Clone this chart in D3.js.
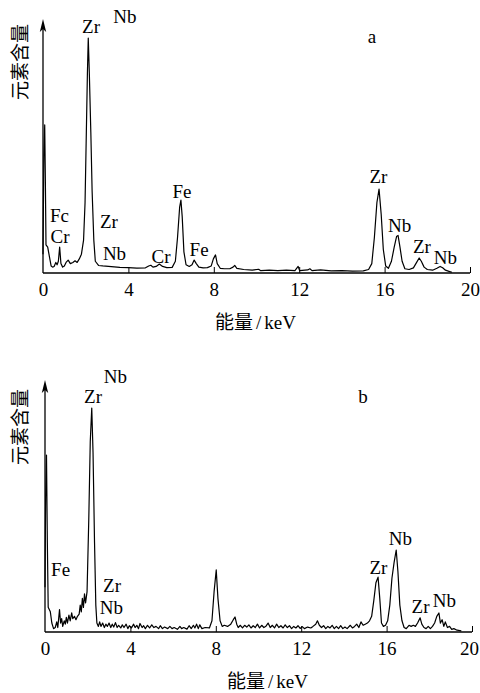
<!DOCTYPE html>
<html>
<head>
<meta charset="utf-8">
<script src="https://cdn.jsdelivr.net/npm/d3@7"></script>
<style>
  body { margin: 0; background: #fff; }
  text { font-family: "Liberation Serif", "Times New Roman", "Noto Sans CJK SC", serif; fill: #000; }
  .cjk { font-family: "Noto Sans CJK SC", sans-serif; }
</style>
</head>
<body>
<svg id="chart" width="480" height="693"></svg>
<script>
// energy (keV) ticks shared by both spectra
const keVTicks = [0, 4, 8, 12, 16, 20];

// spectrum a: [keV, relative counts]
const spectrumA = [
  [0.00, 8], [0.04, 50], [0.08, 63], [0.11, 40], [0.14, 12], [0.22, 11], [0.30, 7], [0.38, 3],
  [0.45, 2.5], [0.52, 2.8], [0.60, 4.5], [0.66, 3.5], [0.72, 5], [0.78, 11], [0.84, 4], [0.92, 2.5],
  [1.00, 3], [1.08, 4.5], [1.18, 5.5], [1.28, 4], [1.40, 4.5], [1.50, 5.2], [1.60, 4.5], [1.70, 6],
  [1.80, 8], [1.90, 14], [1.97, 30], [2.02, 55], [2.08, 85], [2.12, 100], [2.17, 85], [2.24, 60],
  [2.30, 35], [2.38, 14], [2.45, 5], [2.60, 3.2], [2.80, 3], [3.20, 2.7], [3.60, 2.4], [4.00, 2.3],
  [4.40, 2.1], [4.80, 2.2], [4.95, 3], [5.05, 3.3], [5.15, 2.5], [5.30, 2.8], [5.45, 3.8], [5.60, 2.8],
  [5.80, 2.3], [6.05, 2.4], [6.20, 5], [6.30, 15], [6.40, 28], [6.46, 31], [6.52, 24], [6.60, 9],
  [6.70, 3.5], [6.85, 2.8], [6.98, 3.5], [7.08, 5.5], [7.18, 4], [7.30, 2.5], [7.50, 2.2], [7.70, 2.3],
  [7.88, 3], [7.98, 6], [8.08, 7.7], [8.16, 4], [8.30, 2], [8.50, 1.8], [8.75, 1.8], [8.90, 2.5],
  [8.98, 3.2], [9.08, 2], [9.40, 1.5], [9.80, 1.2], [10.10, 1.6], [10.20, 1.0], [10.60, 1.2], [11.00, 1.0],
  [11.40, 1.2], [11.80, 1.0], [11.95, 2.8], [12.02, 1.0], [12.40, 1.3], [12.50, 1.8], [12.60, 1.0], [13.00, 1.3],
  [13.50, 0.9], [14.00, 1.0], [14.50, 0.8], [15.00, 0.9], [15.25, 1.5], [15.40, 4], [15.52, 15], [15.64, 30],
  [15.74, 35.7], [15.84, 25], [15.94, 10], [16.05, 3], [16.18, 2], [16.32, 5], [16.45, 11], [16.56, 15.5],
  [16.63, 16], [16.72, 11], [16.82, 5], [16.95, 1.8], [17.15, 1.5], [17.35, 2.2], [17.50, 4.5], [17.62, 6.4],
  [17.72, 5], [17.85, 2.5], [18.00, 1.5], [18.25, 1.2], [18.45, 2], [18.60, 2.8], [18.72, 2.2], [18.85, 1.2],
  [19.05, 0.6], [19.15, 0.3]
];

// spectrum b: [keV, relative counts]
const spectrumB = [
  [0.00, 20], [0.03, 60], [0.07, 79], [0.11, 40], [0.15, 11], [0.25, 9], [0.32, 4], [0.40, 1.5],
  [0.48, 2], [0.55, 4.5], [0.60, 2], [0.68, 10], [0.73, 4], [0.78, 6], [0.83, 2.5], [0.90, 5],
  [0.95, 3.5], [1.00, 6.5], [1.05, 4], [1.12, 7.5], [1.18, 5], [1.25, 8.5], [1.30, 6], [1.38, 7],
  [1.45, 5.5], [1.52, 7], [1.60, 8], [1.65, 12], [1.70, 9], [1.75, 15], [1.80, 11], [1.85, 17],
  [1.90, 13], [1.97, 18], [2.05, 50], [2.12, 85], [2.19, 100], [2.25, 80], [2.32, 40], [2.38, 12],
  [2.43, 4], [2.50, 2.5], [2.56, 4.5], [2.62, 2.5], [2.70, 4], [2.78, 2], [2.85, 3.5], [2.92, 2.5],
  [3.00, 4], [3.08, 2], [3.15, 3.5], [3.22, 2.2], [3.30, 4.2], [3.38, 2], [3.45, 3], [3.55, 1.8],
  [3.62, 3.2], [3.70, 2], [3.80, 3.5], [3.88, 1.5], [3.95, 2.8], [4.05, 1.8], [4.15, 3.5], [4.22, 2],
  [4.30, 3], [4.38, 1.5], [4.45, 3.8], [4.55, 2], [4.62, 2.8], [4.70, 1.5], [4.80, 3], [4.90, 1.8],
  [5.00, 3.2], [5.10, 2], [5.20, 2.5], [5.32, 1.5], [5.40, 2.8], [5.50, 1.5], [5.60, 2.2], [5.75, 1.5],
  [5.85, 2.5], [5.95, 1.5], [6.05, 2], [6.20, 1.2], [6.32, 2.5], [6.40, 1.5], [6.50, 2], [6.65, 1.3],
  [6.75, 2.8], [6.85, 1.5], [6.95, 3], [7.02, 1.8], [7.10, 3.5], [7.18, 1.5], [7.25, 3.2], [7.35, 1.5],
  [7.50, 2], [7.70, 1.8], [7.82, 5], [7.92, 18], [8.02, 27.7], [8.10, 15], [8.20, 5], [8.30, 2.5],
  [8.40, 3], [8.55, 2.5], [8.70, 3.5], [8.82, 5.5], [8.90, 6.7], [8.98, 3.5], [9.05, 2], [9.15, 3],
  [9.25, 1.8], [9.35, 3], [9.45, 2.2], [9.55, 3.2], [9.65, 1.8], [9.75, 2.8], [9.85, 2], [9.95, 3.5],
  [10.05, 1.8], [10.15, 3], [10.25, 2], [10.35, 2.6], [10.45, 4], [10.55, 2], [10.65, 3], [10.75, 1.8],
  [10.85, 3.5], [10.95, 2], [11.05, 2.8], [11.15, 1.8], [11.25, 3.2], [11.35, 2], [11.45, 2.8], [11.55, 1.5],
  [11.65, 2.5], [11.75, 1.8], [11.85, 2.8], [11.95, 1.6], [12.05, 2.4], [12.15, 1.5], [12.30, 2.2], [12.45, 1.8],
  [12.55, 2.5], [12.68, 3.5], [12.76, 5], [12.85, 3], [12.95, 2], [13.05, 2.8], [13.15, 1.5], [13.25, 2.5],
  [13.35, 1.8], [13.45, 3], [13.55, 1.5], [13.65, 2.5], [13.75, 1.5], [13.85, 2.8], [13.95, 1.5], [14.05, 2.2],
  [14.15, 1.5], [14.30, 3], [14.40, 1.8], [14.50, 2.5], [14.60, 3.5], [14.70, 2], [14.80, 4.5], [14.90, 3],
  [15.00, 3.5], [15.10, 4], [15.20, 5], [15.30, 7], [15.40, 14], [15.50, 22], [15.60, 24.5], [15.68, 15],
  [15.76, 4], [15.85, 2.5], [15.95, 3], [16.05, 5], [16.15, 12], [16.25, 24], [16.35, 31], [16.45, 36.6],
  [16.53, 27], [16.62, 12], [16.72, 5], [16.82, 2], [16.92, 1.5], [17.05, 3], [17.15, 2.5], [17.25, 3],
  [17.35, 2.5], [17.45, 4], [17.57, 6.3], [17.65, 3.5], [17.75, 2], [17.85, 1.5], [17.95, 2.5], [18.05, 1.5],
  [18.15, 2.5], [18.25, 4], [18.35, 7], [18.45, 8.5], [18.52, 4], [18.60, 5.5], [18.68, 2.5], [18.75, 4.5],
  [18.85, 2], [18.95, 2.5], [19.05, 1.2], [19.15, 1.5], [19.30, 0.8], [19.50, 0.5]
];

// peak labels: [text, keV, counts at text baseline]
const labelsA = [
  ["Zr", 2.25, 102], ["Nb", 3.84, 106.4], ["Fc", 0.77, 21.7], ["Cr", 0.80, 12.8],
  ["Zr", 3.09, 19.1], ["Nb", 3.35, 5.5], ["Cr", 5.53, 4.3], ["Fe", 6.51, 31.9],
  ["Fe", 7.31, 7.2], ["Zr", 15.71, 38.3], ["Nb", 16.70, 17.4], ["Zr", 17.75, 8.5],
  ["Nb", 18.85, 3.8], ["a", 15.41, 97.9]
];
const labelsB = [
  ["Zr", 2.25, 102.2], ["Nb", 3.30, 111.2], ["Fe", 0.73, 25], ["Zr", 3.14, 17.9],
  ["Nb", 3.11, 8.0], ["Zr", 15.62, 25.9], ["Nb", 16.65, 38.8], ["Zr", 17.59, 8.5],
  ["Nb", 18.71, 11.2], ["b", 14.89, 102.2]
];

const yTitle = "元素含量";
const xTitle = "能量/keV";

const svg = d3.select("#chart");

// one spectrum panel
function drawPanel(data, labels, box) {
  const g = svg.append("g");
  const x = d3.scaleLinear().domain([0, 20]).range([box.left, box.right]);
  const y = d3.scaleLinear().domain([0, 100]).range([box.base, box.top100]);

  // x axis: baseline with short inward ticks
  const axis = d3.axisBottom(x).tickValues(keVTicks).tickSize(-6).tickPadding(9).tickFormat(d3.format("d"));
  const ax = g.append("g").attr("transform", `translate(0,${box.base})`).call(axis)
    .attr("font-family", null).attr("font-size", null);
  ax.select(".domain").attr("d", `M${box.left},0H${box.right}`).attr("stroke-width", 1.3);
  ax.selectAll(".tick line").attr("stroke-width", 1);
  ax.selectAll(".tick").filter(d => d === 0).select("line").remove();
  ax.selectAll(".tick text").style("font-family", '"Liberation Serif", serif').style("font-size", "19px").attr("dy", "0.72em");
  // keep the last label inside the page
  ax.selectAll(".tick").filter(d => d === 20).select("text").attr("x", box.lastdx);

  // y axis with arrow
  g.append("line").attr("x1", box.left).attr("x2", box.left)
    .attr("y1", box.base).attr("y2", box.arrow + 8).attr("stroke", "#000").attr("stroke-width", 1.3);
  g.append("path")
    .attr("d", `M${box.left},${box.arrow}L${box.left - 3.2},${box.arrow + 13}L${box.left},${box.arrow + 10}L${box.left + 3.2},${box.arrow + 13}Z`)
    .attr("fill", "#000");

  // spectrum
  const line = d3.line().x(d => x(d[0])).y(d => y(d[1]));
  g.append("path").datum(data).attr("d", line)
    .attr("fill", "none").attr("stroke", "#000").attr("stroke-width", 1.2).attr("stroke-linejoin", "round");

  // peak labels
  g.selectAll("text.lbl").data(labels).join("text").attr("class", "lbl")
    .attr("x", d => x(d[1])).attr("y", d => y(d[2]))
    .attr("text-anchor", "middle").style("font-size", "19px").text(d => d[0]);

  // titles
  g.append("text").attr("class", "cjk")
    .attr("transform", `translate(${box.ytx},${box.yty}) rotate(-90)`)
    .attr("text-anchor", "middle").attr("dy", "0.35em").style("font-size", "19px").text(yTitle);
  g.append("text")
    .attr("x", x(10) + box.xtdx).attr("y", box.base + 56)
    .attr("text-anchor", "middle").style("font-size", "19px")
    .call(t => {
      t.append("tspan").attr("class", "cjk").text(xTitle.slice(0, 2));
      t.append("tspan").attr("dx", 3).text(xTitle.slice(2, 3));
      t.append("tspan").attr("dx", 3).text(xTitle.slice(3));
    });
}

drawPanel(spectrumA, labelsA, { left: 43, right: 470, base: 273, top100: 38, arrow: 19, ytx: 20, yty: 62, xtdx: -1, lastdx: 0 });
drawPanel(spectrumB, labelsB, { left: 45, right: 472, base: 632, top100: 408, arrow: 380, ytx: 20, yty: 427, xtdx: 9, lastdx: -3 });
</script>
</body>
</html>
